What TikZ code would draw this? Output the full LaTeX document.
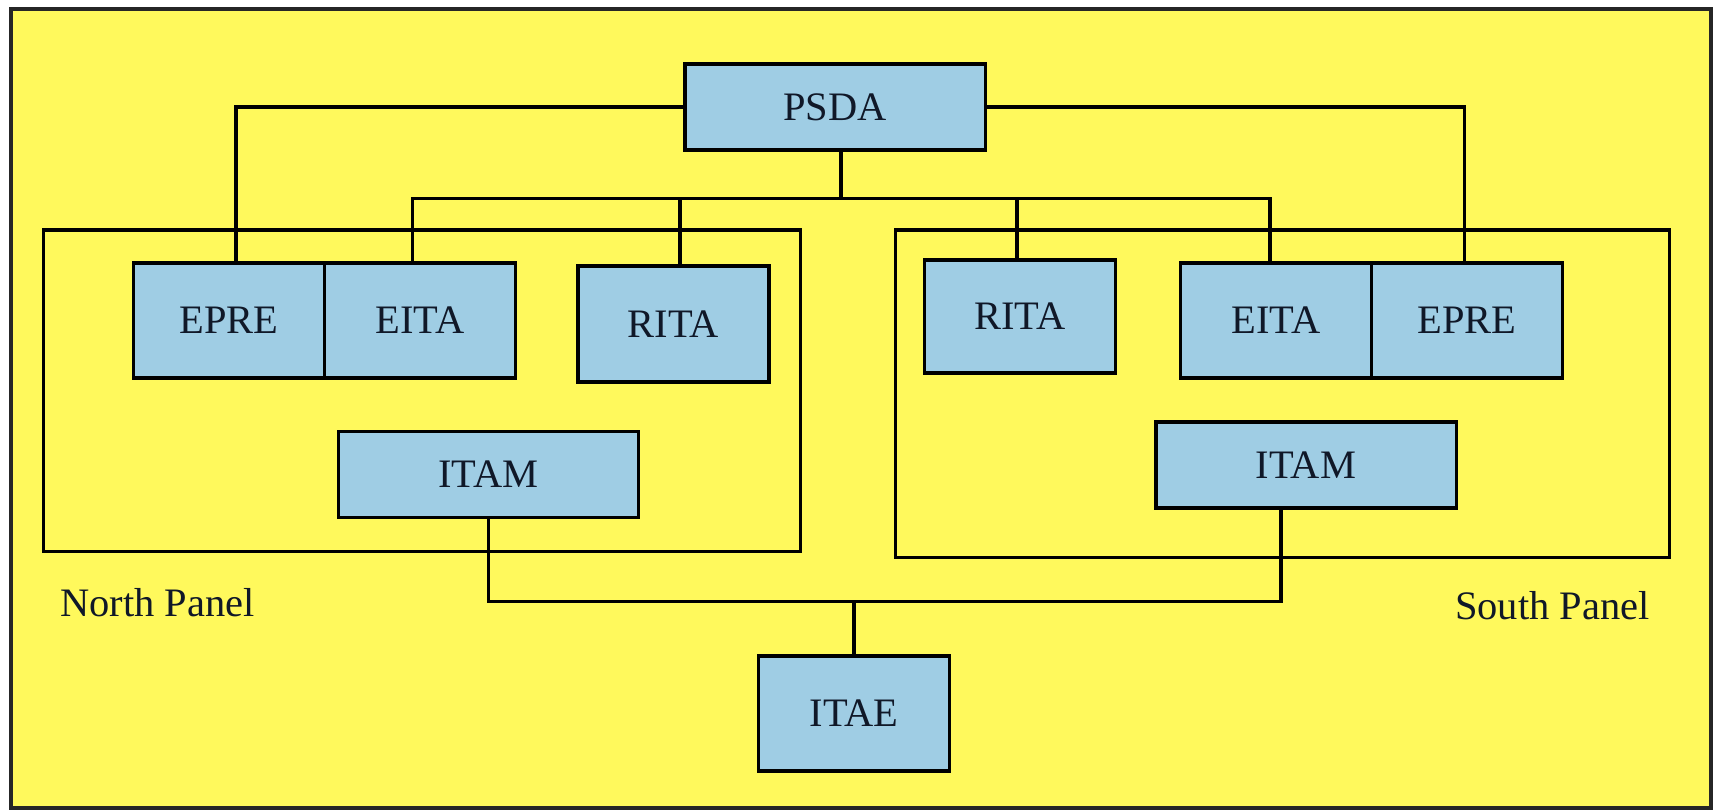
\documentclass[tikz,border=0pt]{standalone}
\usepackage{fontspec}
\setmainfont{Liberation Serif}
\usetikzlibrary{positioning}
\definecolor{paper}{HTML}{FFF95C}
\definecolor{unit}{HTML}{9FCDE4}
\definecolor{ink}{HTML}{101828}

\begin{document}
\begin{tikzpicture}[
 x=0.01cm,y=-0.01cm,
 every node/.style={align=center,text=ink,font=\fontsize{11.5}{13}\selectfont},
 orgbox/.style={draw=black,fill=unit,line width=0.9pt,
 minimum width=1.91cm,minimum height=1.15cm,inner sep=0pt},
 orgwide/.style={orgbox,minimum width=3cm,minimum height=0.86cm},
 orgpanel/.style={draw=black,line width=0.9pt,inner sep=0pt},
 orglink/.style={draw=black,line width=0.9pt}]
\useasboundingbox (0,0) rectangle (1719,811);
\fill[white] (0,0) rectangle (1719,811);
\draw[draw=black!85,line width=1.1pt,fill=paper] (11,9) rectangle (1711,808);
% panels
\node[orgpanel,minimum width=7.56cm,minimum height=3.21cm] (npanel) at (422,390.5) {};
\node[orgpanel,minimum width=7.73cm,minimum height=3.27cm] (spanel) at (1282.5,393.5) {};
\node[anchor=west] (nlabel) at (48,603) {North Panel};
\node[anchor=east] (slabel) at (1662,606) {South Panel};
% units
\node[orgwide] (psda) at (835,107) {PSDA};
\node[orgbox] (eprel) at (229,320.5) {EPRE};
\node[orgbox,right=-0.9pt of eprel] (eital) {EITA};
\node[orgbox,minimum height=1.16cm] (rital) at (673.5,324) {RITA};
\node[orgwide] (itaml) at (488.5,474.5) {ITAM};
\node[orgbox,minimum height=1.13cm] (ritas) at (1020,316.5) {RITA};
\node[orgbox] (eitas) at (1276,320.5) {EITA};
\node[orgbox,right=-0.9pt of eitas] (epres) {EPRE};
\node[orgwide] (itams) at (1306,465) {ITAM};
\node[orgbox] (itae) at (854,713.5) {ITAE};
% links
\draw[orglink] (psda.west) -| ([xshift=0.07cm]eprel.north);
\draw[orglink] (psda.east) -| ([xshift=-0.03cm]epres.north);
\draw[orglink] ([xshift=0.06cm]psda.south) -- ++(0,47) coordinate (bus);
\draw[orglink] (bus) -| ([xshift=-0.08cm]eital.north);
\draw[orglink] (bus) -| ([xshift=-0.06cm]eitas.north);
\draw[orglink] ([xshift=0.065cm]rital.north) -- ([xshift=0.065cm]rital.north |- bus);
\draw[orglink] ([xshift=-0.03cm]ritas.north) -- ([xshift=-0.03cm]ritas.north |- bus);
\path (itae.north) ++(0,-53) coordinate (lowbus);
\coordinate (sdrop) at ([xshift=-0.25cm]itams.south);
\draw[orglink] (itaml.south) |- (sdrop |- lowbus) -- (sdrop);
\draw[orglink] (lowbus) -- (itae.north);
\end{tikzpicture}
\end{document}
